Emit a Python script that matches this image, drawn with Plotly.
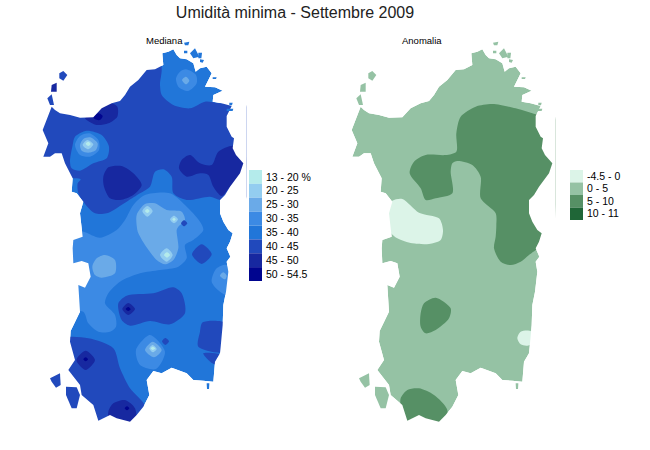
import plotly.graph_objects as go

TITLE = "Umidità minima - Settembre 2009"
PANELS = ["Mediana", "Anomalia"]
MED_LABELS = ["13 - 20 %", "20 - 25", "25 - 30", "30 - 35", "35 - 40", "40 - 45", "45 - 50", "50 - 54.5"]
MED_COLORS = ["#B4EBEB", "#93CDF0", "#6AAAE8", "#3C8AE4", "#2176D9", "#2149BC", "#1728A0", "#00058F"]
ANO_LABELS = ["-4.5 - 0", "0 - 5", "5 - 10", "10 - 11"]
ANO_COLORS = ["#DCF4E8", "#95C2A4", "#569065", "#1F6637"]

# Map outline, in map units (north at small y)
COAST = [(65,230),(75,240),(90,250),(120,255),(150,263),(190,262),(205,245),(215,235),(245,220),(270,213),(285,195),(300,170),(325,150),(350,120),(375,118),(400,105),(397,70),(415,65),(430,58),(440,75),(450,85),(470,88),(490,100),(497,125),(510,115),(530,110),(545,130),(535,150),(525,170),(555,172),(578,182),(550,195),(548,215),(575,220),(605,228),(590,258),(590,290),(605,320),(612,325),(608,355),(618,375),(640,400),(630,430),(615,450),(600,470),(585,495),(570,510),(570,550),(580,575),(595,600),(608,610),(600,635),(590,655),(601,680),(590,695),(595,725),(588,785),(580,825),(578,885),(572,950),(570,970),(555,995),(550,1055),(520,1052),(490,1050),(470,1030),(425,1013),(395,1030),(370,1023),(350,1050),(358,1095),(340,1130),(320,1155),(300,1175),(260,1165),(240,1155),(205,1172),(190,1125),(155,1095),(150,1065),(115,1020),(135,990),(120,935),(122,903),(150,845),(145,765),(165,773),(182,740),(175,700),(155,693),(130,700),(128,655),(130,630),(158,620),(155,590),(150,550),(160,515),(140,490),(125,485),(128,445),(105,400),(95,370),(75,370),(60,380),(40,380),(55,340),(38,300),(50,270)]

# Small islands: (outline, median band index)
ISLANDS = [
    ([(88,130),(100,123),(112,135),(100,152),(88,145)], 5),
    ([(65,165),(80,158),(80,185),(63,185)], 6),
    ([(52,205),(65,193),(72,225),(60,225)], 5),
    ([(60,1045),(90,1030),(92,1065),(78,1073),(65,1055)], 5),
    ([(108,1070),(140,1072),(150,1095),(140,1135),(125,1135),(108,1095)], 5),
    ([(480,70),(495,55),(508,80),(490,85)], 4),
    ([(462,38),(478,35),(475,46),(465,46)], 4),
    ([(462,62),(472,62),(472,70),(462,70)], 4),
    ([(505,68),(516,68),(514,85),(505,85)], 4),
    ([(598,218),(608,218),(606,226),(598,226)], 4),
    ([(590,236),(610,236),(608,243),(590,243)], 4),
    ([(510,88),(522,90),(518,98),(510,96)], 4),
    ([(548,142),(560,142),(558,147),(548,147)], 4),
    ([(530,1060),(538,1060),(537,1077),(531,1077)], 4),
]

# Median zones: (outline, band index), painted in order over the 35-40 land
MED_ZONES = [
    ([(10,100),(390,100),(390,165),(395,195),(430,225),(480,235),(525,215),(570,220),(645,220),(645,510),(570,510),(540,500),(470,510),(430,490),(425,440),(400,418),(375,425),(360,470),(330,490),(290,515),(230,550),(195,550),(160,515),(145,490),(143,460),(152,448),(125,445),(10,445)], 5),
    ([(120,395),(128,345),(135,320),(170,302),(215,315),(237,350),(230,385),(190,400),(150,422),(125,415)], 4),
    ([(135,345),(150,318),(178,310),(205,330),(207,360),(180,380),(150,375)], 3),
    ([(150,345),(160,327),(180,322),(203,340),(198,360),(175,368),(155,362)], 2),
    ([(158,345),(172,330),(190,343),(175,358)], 1),
    ([(167,341),(175,335),(182,342),(175,348)], 0),
    ([(468,118),(498,135),(500,160),(475,183),(445,170),(438,145),(450,125)], 3),
    ([(456,150),(468,140),(478,152),(468,163)], 2),
    ([(165,265),(205,240),(240,220),(262,230),(262,260),(235,280),(200,285),(170,270)], 6),
    ([(190,262),(205,250),(218,258),(210,270),(195,268)], 7),
    ([(220,440),(235,412),(275,408),(310,430),(335,465),(310,495),(270,510),(240,505),(222,470)], 6),
    ([(447,415),(455,390),(480,375),(510,400),(545,405),(565,365),(610,347),(645,370),(645,430),(600,470),(575,498),(550,470),(535,435),(510,430),(470,440)], 6),
    ([(100,600),(160,605),(210,623),(260,600),(285,570),(310,525),(345,495),(420,490),(465,525),(510,575),(520,600),(490,630),(465,645),(470,685),(445,710),(390,720),(330,730),(270,755),(235,790),(225,820),(255,855),(258,890),(240,905),(205,905),(175,880),(160,845),(100,840)], 3),
    ([(322,600),(320,555),(345,522),(375,520),(410,540),(455,545),(465,570),(445,590),(440,600),(445,655),(430,690),(405,703),(380,690),(345,645),(325,610)], 2),
    ([(337,543),(352,528),(368,543),(352,560)], 1),
    ([(345,543),(352,537),(359,543),(352,549)], 0),
    ([(420,568),(432,557),(444,568),(432,580)], 1),
    ([(427,568),(432,563),(437,568),(432,573)], 0),
    ([(390,675),(410,655),(428,675),(410,695)], 1),
    ([(402,675),(411,667),(420,675),(411,683)], 0),
    ([(453,580),(462,571),(472,580),(462,589)], 5),
    ([(187,710),(200,685),(225,675),(255,690),(255,730),(215,743),(195,735)], 2),
    ([(486,673),(515,643),(545,673),(515,702)], 5),
    ([(545,755),(560,715),(590,705),(605,800),(570,785)], 3),
    ([(570,737),(580,727),(590,737),(585,748)], 2),
    ([(265,820),(290,797),(370,790),(430,772),(455,790),(465,850),(420,883),(360,873),(300,887),(275,870)], 5),
    ([(277,837),(295,819),(315,837),(295,855)], 6),
    ([(287,837),(295,831),(302,838),(295,843)], 7),
    ([(318,960),(360,915),(405,965),(378,1017),(330,1005)], 3),
    ([(345,960),(368,935),(395,960),(372,982)], 2),
    ([(358,955),(368,945),(380,957),(368,967)], 1),
    ([(362,955),(368,950),(376,955),(368,960)], 0),
    ([(396,934),(406,924),(417,934),(406,945)], 5),
    ([(90,930),(175,925),(250,955),(270,1015),(300,1075),(345,1130),(300,1195),(90,1195)], 5),
    ([(139,990),(167,962),(195,990),(167,1020)], 6),
    ([(160,988),(167,982),(174,988),(167,994)], 7),
    ([(330,1098),(340,1091),(350,1098),(340,1105)], 4),
    ([(235,1145),(250,1120),(285,1110),(315,1135),(315,1180),(240,1180)], 6),
    ([(284,1135),(291,1129),(298,1135),(291,1141)], 7),
    ([(518,877),(590,880),(585,965),(505,950),(510,905)], 5),
    ([(520,970),(585,977),(555,1003),(535,990)], 5),
]

# Anomaly zones, painted over the 0-5 land
ANO_ZONES = [
    ([(352,365),(352,310),(365,260),(410,230),(460,222),(530,235),(600,255),(645,255),(645,600),(640,620),(570,675),(545,695),(515,705),(485,695),(465,655),(470,620),(472,585),(470,550),(425,505),(425,440),(400,405),(355,393),(340,400),(335,425),(340,490),(290,505),(260,510),(245,475),(212,430),(225,395),(260,375),(320,375)], 2),
    ([(160,512),(190,507),(240,548),(300,565),(312,600),(305,630),(270,642),(220,640),(175,625),(140,590),(130,540)], 0),
    ([(245,850),(255,820),(290,803),(335,835),(330,865),(290,900),(260,910),(245,890)], 2),
    ([(535,925),(545,905),(575,903),(590,935),(565,947),(545,943)], 0),
    ([(185,1105),(205,1080),(240,1075),(285,1095),(325,1140),(310,1195),(200,1195),(185,1130)], 2),
]

MAP_W, MAP_H = 650, 1200


def poly(points, color, xa, ya, smooth=True):
    xs = [p[0] for p in points] + [points[0][0]]
    ys = [p[1] for p in points] + [points[0][1]]
    return go.Scatter(x=xs, y=ys, xaxis=xa, yaxis=ya, mode="lines", fill="toself", fillcolor=color,
                      line=dict(width=0, shape="spline" if smooth else "linear", smoothing=0.8, color=color),
                      hoverinfo="skip", showlegend=False)


def sea_mask(xa, ya):
    # outer ring runs opposite to the coast, so the land stays open
    ring = [(-20,-20),(-20,MAP_H+20),(MAP_W+20,MAP_H+20),(MAP_W+20,-20),(-20,-20)]
    pts = ring + COAST + [COAST[0], (-20,-20)]
    return poly(pts, "#FFFFFF", xa, ya, smooth=False)


def panel(base_idx, zones, colors, xa, ya, island_colors):
    out = [poly(COAST, colors[base_idx], xa, ya, smooth=False)]
    out += [poly(p, colors[i], xa, ya) for p, i in zones]
    out.append(sea_mask(xa, ya))
    out += [poly(p, island_colors(i), xa, ya, smooth=False) for p, i in ISLANDS]
    return out


fig = go.Figure()
fig.add_traces(panel(4, MED_ZONES, MED_COLORS, "x", "y", lambda i: MED_COLORS[i]))
fig.add_traces(panel(1, ANO_ZONES, ANO_COLORS, "x2", "y2", lambda i: ANO_COLORS[1]))
fig.add_trace(go.Bar(y=MED_LABELS, x=[1]*len(MED_LABELS), orientation="h", width=1, xaxis="x3", yaxis="y3",
                     marker=dict(color=MED_COLORS, line=dict(width=0)), hoverinfo="skip", showlegend=False))
fig.add_trace(go.Bar(y=ANO_LABELS, x=[1]*len(ANO_LABELS), orientation="h", width=1, xaxis="x4", yaxis="y4",
                     marker=dict(color=ANO_COLORS, line=dict(width=0)), hoverinfo="skip", showlegend=False))

W, H = 650, 450
FONT = "Liberation Sans, Arial, sans-serif"
hidden = dict(visible=False, fixedrange=True)


def px_dom(a, b, size):
    return [a/size, b/size]


def py_dom(top, bottom):
    return [(H-bottom)/H, (H-top)/H]


def legend_axis(top, bottom, anchor, labels):
    return dict(domain=py_dom(top, bottom), autorange="reversed", anchor=anchor, side="right", showgrid=False,
                zeroline=False, showline=False, ticks="", tickmode="array", tickvals=labels, ticktext=labels,
                tickfont=dict(size=10.5, family=FONT, color="#000000"), ticklabelstandoff=3, fixedrange=True)


fig.update_layout(
    width=W, height=H, autosize=False, margin=dict(l=0, r=0, t=0, b=0),
    paper_bgcolor="white", plot_bgcolor="white", barmode="overlay", showlegend=False,
    font=dict(family=FONT, color="#000000"),
    title=dict(text=TITLE, x=295/W, xanchor="center", y=1-12/H, yanchor="middle", font=dict(size=16, family=FONT, color="#222222")),
    xaxis=dict(domain=px_dom(30, 30+MAP_W/3, W), range=[0, MAP_W], anchor="y", **hidden),
    yaxis=dict(domain=py_dom(30, 430), range=[MAP_H, 0], anchor="x", **hidden),
    xaxis2=dict(domain=px_dom(339, 339+MAP_W/3, W), range=[0, MAP_W], anchor="y2", **hidden),
    yaxis2=dict(domain=py_dom(30, 430), range=[MAP_H, 0], anchor="x2", **hidden),
    xaxis3=dict(domain=px_dom(249, 262, W), range=[0, 1], anchor="y3", **hidden),
    yaxis3=legend_axis(170, 281, "x3", MED_LABELS),
    xaxis4=dict(domain=px_dom(570, 583, W), range=[0, 1], anchor="y4", **hidden),
    yaxis4=legend_axis(170, 220, "x4", ANO_LABELS),
    annotations=[
        dict(text=PANELS[0], x=144/W, y=1-33/H, xref="paper", yref="paper", showarrow=False, font=dict(size=9.5, family=FONT)),
        dict(text=PANELS[1], x=444/W, y=1-33/H, xref="paper", yref="paper", showarrow=False, font=dict(size=9.5, family=FONT)),
    ],
)

fig.write_html("out.html", config=dict(displayModeBar=False), post_script="document.body.style.margin='0';")
